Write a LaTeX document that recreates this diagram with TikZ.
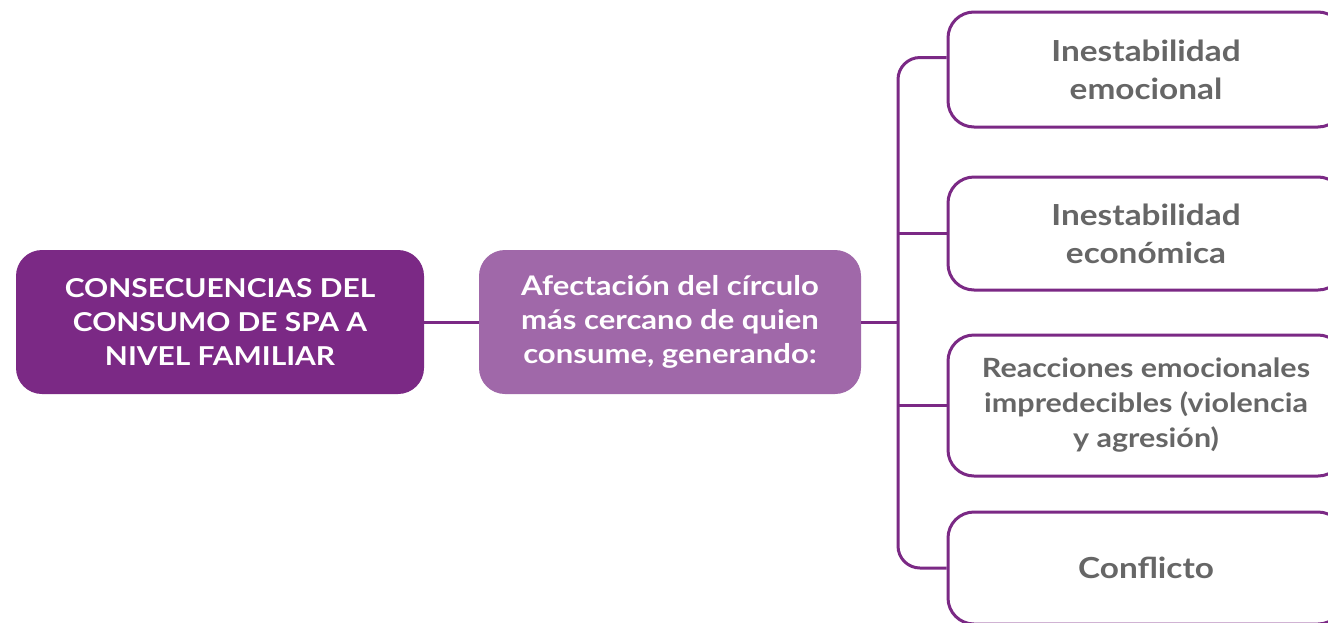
\documentclass[tikz,border=0pt]{standalone}
\usepackage{fontspec}
\setmainfont{Lato}[FakeStretch=1.15]
\definecolor{darkpurple}{HTML}{7B2985}
\definecolor{lightpurple}{HTML}{A068A9}
\definecolor{txtgray}{HTML}{666666}
\begin{document}
\begin{tikzpicture}[x=1pt,y=1pt,
  mainbox/.style={rectangle, rounded corners=26pt, fill=darkpurple, text=white, align=center, font=\fontsize{26}{34}\selectfont\bfseries, inner sep=0pt},
  midbox/.style={rectangle, rounded corners=26pt, fill=lightpurple, text=white, align=center, font=\fontsize{27}{34}\selectfont\bfseries, inner sep=0pt},
  outbox/.style={rectangle, rounded corners=26pt, draw=darkpurple, line width=3pt, fill=white, text=txtgray, align=center, font=\fontsize{29}{38}\selectfont\bfseries, inner sep=0pt, minimum width=396pt},
  link/.style={draw=darkpurple, line width=3pt}
]
\useasboundingbox (0,0) rectangle (1328,-622);
\clip (0,0) rectangle (1328,-622);
\fill[white] (0,0) rectangle (1328,-622);
\node[mainbox, minimum width=408pt, minimum height=144pt] (main) at (220,-322) {CONSECUENCIAS DEL\\CONSUMO DE SPA A\\NIVEL FAMILIAR};
\node[midbox, minimum width=382pt, minimum height=144pt] (mid) at (670,-322) {Afectación del círculo\\más cercano de quien\\consume, generando:};
\coordinate (bx) at (898,-322);
\node[outbox, minimum height=115pt] (r1) at (1146,-69.5) {Inestabilidad\\emocional};
\node[outbox, minimum height=113pt] (r2) at (1146,-233.5) {Inestabilidad\\económica};
\node[outbox, minimum height=141pt, font=\fontsize{26.5}{35}\selectfont\bfseries] (r3) at (1146,-405.5) {Reacciones emocionales\\impredecibles (violencia\\y agresión)};
\node[outbox, minimum height=112pt] (r4) at (1146,-568) {Conflicto};
\draw[link] (main.east) -- (mid.west);
\draw[link] (mid.east) -- (bx);
\draw[link, rounded corners=22pt] ([yshift=12pt]r1.west) -| (bx) |- (r4.west);
\draw[link] (r2.west) -- (r2.west -| bx);
\draw[link] (r3.west) -- (r3.west -| bx);
\end{tikzpicture}
\end{document}
